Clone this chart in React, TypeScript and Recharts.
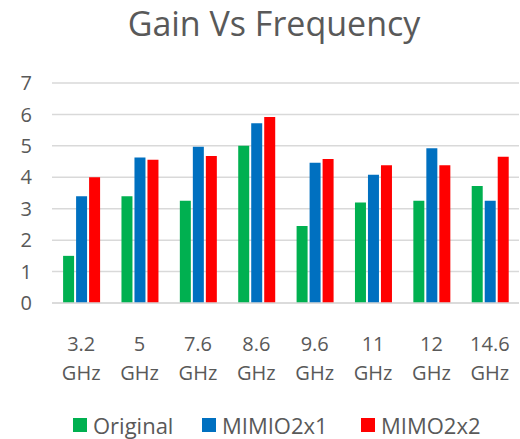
import { Bar, BarChart, CartesianGrid, XAxis, YAxis } from "recharts";

const categories = ["3.2 GHz", "5 GHz", "7.6 GHz", "8.6 GHz", "9.6 GHz", "11 GHz", "12 GHz", "14.6 GHz"];
const original = [1.5, 3.4, 3.25, 5.0, 2.45, 3.2, 3.25, 3.72];
const mimio2x1 = [3.4, 4.63, 4.97, 5.72, 4.46, 4.08, 4.92, 3.25];
const mimo2x2 = [4.0, 4.56, 4.68, 5.92, 4.58, 4.38, 4.38, 4.65];
const yTicks = [0, 1, 2, 3, 4, 5, 6, 7];

const series = [
  { key: "original", name: "Original", color: "#00B050", values: original },
  { key: "mimio2x1", name: "MIMIO2x1", color: "#0070C0", values: mimio2x1 },
  { key: "mimo2x2", name: "MIMO2x2", color: "#FF0000", values: mimo2x2 },
];

const data = categories.map((cat, i) => {
  const row: Record<string, string | number> = { cat };
  series.forEach((s) => {
    row[s.key] = s.values[i];
  });
  return row;
});

const FONT = "'Open Sans', sans-serif";
const TEXT = "#595959";
const legendWidths = [129, 159, 130];

function FreqTick({ x, y, payload }: any) {
  const [num, unit] = String(payload.value).split(" ");
  return (
    <g transform={`translate(${x},${y})`}>
      <text x={0} y={0} textAnchor="middle" fill={TEXT} fontSize={20} fontFamily={FONT}>
        <tspan x={0} dy={40}>{num}</tspan>
        <tspan x={0} dy={29}>{unit}</tspan>
      </text>
    </g>
  );
}

export default function App() {
  return (
    <div style={{ position: "relative", width: 520, height: 439, background: "#fff", fontFamily: FONT }}>
      <style>{`body{margin:0}`}</style>
      <div
        style={{
          position: "absolute",
          top: 3,
          left: 0,
          width: 548,
          textAlign: "center",
          fontSize: 34,
          lineHeight: "40px",
          color: TEXT,
        }}
      >
        Gain Vs Frequency
      </div>

      <BarChart
        width={520}
        height={439}
        data={data}
        margin={{ top: 83, right: 1, left: 0, bottom: 0 }}
        barCategoryGap="19%"
        barGap={2}
      >
        <CartesianGrid stroke="#d9d9d9" strokeWidth={1.5} vertical={false} />
        <XAxis
          dataKey="cat"
          height={136}
          axisLine={{ stroke: "#d9d9d9", strokeWidth: 1.5 }}
          tickLine={false}
          interval={0}
          tick={<FreqTick />}
        />
        <YAxis
          width={52}
          domain={[0, 7]}
          ticks={yTicks}
          axisLine={false}
          tickLine={false}
          tickMargin={14}
          tick={{ fill: TEXT, fontSize: 20, fontFamily: FONT }}
        />
        {series.map((s) => (
          <Bar key={s.key} dataKey={s.key} name={s.name} fill={s.color} isAnimationActive={false} />
        ))}
      </BarChart>

      <div
        style={{
          position: "absolute",
          top: 410,
          left: 73,
          height: 30,
          display: "flex",
          alignItems: "center",
          fontSize: 22,
          color: TEXT,
          whiteSpace: "nowrap",
        }}
      >
        {series.map((s, i) => (
          <div key={s.key} style={{ display: "flex", alignItems: "center", width: legendWidths[i] }}>
            <span style={{ display: "inline-block", width: 14, height: 14, background: s.color, marginRight: 6 }} />
            <span>{s.name}</span>
          </div>
        ))}
      </div>
    </div>
  );
}
